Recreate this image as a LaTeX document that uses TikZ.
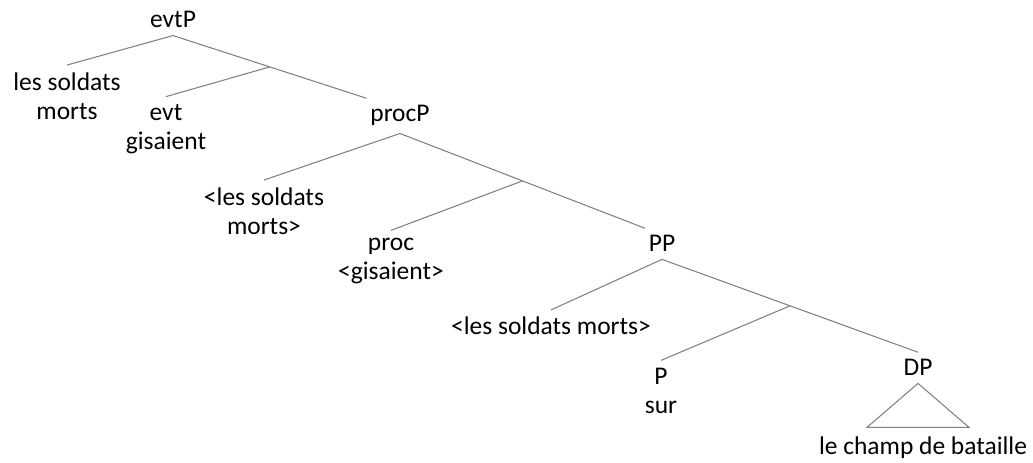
\documentclass[tikz,border=0pt]{standalone}
\usepackage{fontspec}
\setmainfont{Carlito}
\usetikzlibrary{calc}

\begin{document}
\begin{tikzpicture}[x=0.2mm, y=-0.2mm,
  lbl/.style = {align=center, anchor=base, inner xsep=2pt, inner ysep=4pt,
                font=\fontsize{14.5}{17}\selectfont},
  br/.style = {draw=black!50, line width=0.6pt}]
\useasboundingbox (0,0) rectangle (1033,463);

% multi-line labels sit on the baseline of their last line
\node[lbl] (x1) at (173,28) {evtP};
\node[lbl] (y1) at (67,120) {les soldats\\morts};
\node[lbl] (z1) at (166,150) {evt\\gisaient};
\node[lbl] (z2) at (400,122) {procP};
\node[lbl] (t1) at (264,235) {<les soldats\\morts>};
\node[lbl] (u1) at (391,280) {proc\\<gisaient>};
\node[lbl] (u2) at (662,252) {PP};
\node[lbl] (v1) at (551,335) {<les soldats morts>};
\node[lbl] (w1) at (661,414) {P\\sur};
\node[lbl] (w2) at (918,376) {DP};
\node[lbl] (s1) at (923,455) {le champ de bataille};

% bar levels sit halfway down the right branch
\coordinate (y2) at ($(x1.south)!.5!(z2.north west)$);
\coordinate (t2) at ($(z2.south)!.5!(u2.north west)$);
\coordinate (v2) at ($(u2.south)!.5!(w2.north)$);

\draw[br] (x1.south) -- (y1.north);
\draw[br] (x1.south) -- (z2.north west);
\draw[br] (y2) -- (z1.north);
\draw[br] (z2.south) -- (t1.north);
\draw[br] (z2.south) -- (u2.north west);
\draw[br] (t2) -- (u1.north);
\draw[br] (u2.south) -- (v1.north);
\draw[br] (u2.south) -- (w2.north);
\draw[br] (v2) -- (w1.north);
\draw[br] (w2.south) -- ++(-51,44) -- ++(102,0) -- cycle;
\end{tikzpicture}
\end{document}
